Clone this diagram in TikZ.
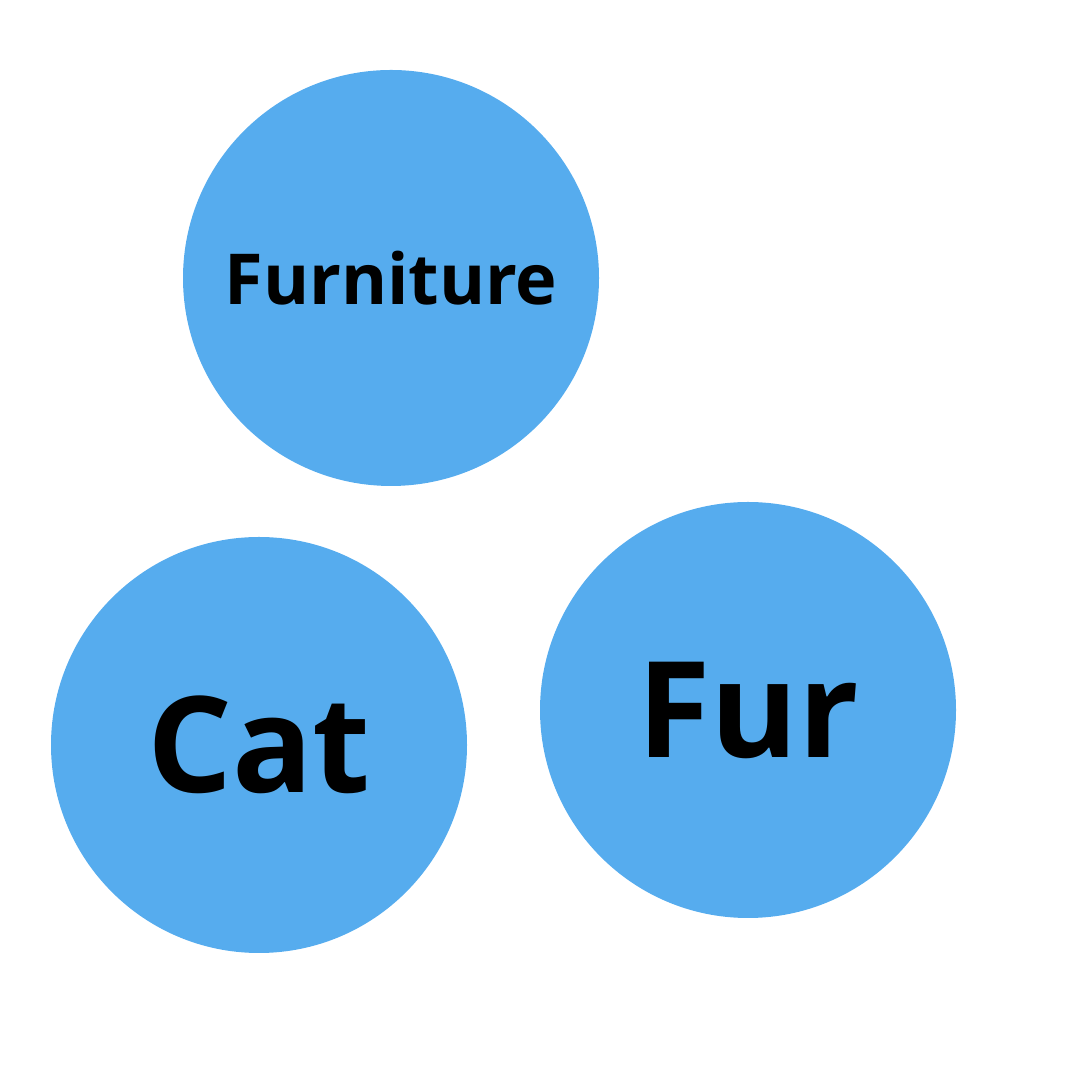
\documentclass[tikz,border=0pt]{standalone}
\usepackage{fontspec}
\setmainfont{Open Sans}
\usepackage{tikz}

\definecolor{bubbleblue}{HTML}{56ACEE}

\begin{document}
\begin{tikzpicture}[
  bubble/.style = {circle, fill=bubbleblue, minimum size=4.16cm, inner sep=0pt, font=\bfseries}
]

\useasboundingbox (0, 0) rectangle (10.8, 10.8);

\node[bubble] (furniture) at (3.91, 8.02) {\fontsize{20}{24}\selectfont Furniture};
\node[bubble] (cat) at (2.59, 3.35) {\fontsize{38}{44}\selectfont Cat};
\node[bubble] (fur) at (7.48, 3.70) {\fontsize{38}{44}\selectfont Fur};

\end{tikzpicture}
\end{document}
